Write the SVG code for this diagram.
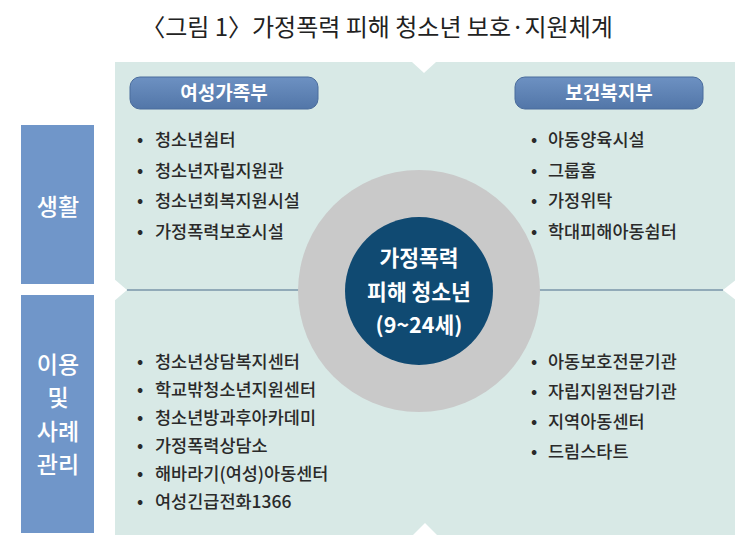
<svg xmlns="http://www.w3.org/2000/svg" width="750" height="551" viewBox="0 0 750 551">
<defs>
<linearGradient id="pillGrad" x1="0" y1="0" x2="0" y2="1">
<stop offset="0" stop-color="#6d91c2"/>
<stop offset="1" stop-color="#5276a8"/>
</linearGradient>
<style>
.k{font-family:"Noto Sans CJK KR","Noto Sans",sans-serif;}
.title{font-size:24px;fill:#222;}
.li{font-size:17.5px;fill:#2a2a2a;font-weight:500;}
.side{font-size:23px;fill:#fff;text-anchor:middle;font-weight:500;}
.pilltxt{font-size:19px;fill:#fff;text-anchor:middle;font-weight:700;}
.ctr{font-size:21.5px;fill:#fff;text-anchor:middle;font-weight:700;}
.pill{fill:url(#pillGrad);stroke:#4a6c9c;stroke-width:1;}
.sidebox{fill:#7096c9;}
.notch{fill:#fff;}
</style>
</defs>
<rect width="750" height="551" fill="#fff"/>
<text class="k title" y="36"><tspan x="252" text-anchor="end">〈그림 1〉</tspan><tspan x="252">가정폭력 피해 청소년 보호·지원체계</tspan></text>

<g id="panel">
<rect x="115" y="62" width="620" height="473" fill="#d8e9e6"/>
<polygon class="notch" points="412,62 436,62 424,73"/>
<polygon class="notch" points="413,535 437,535 425,523"/>
<polygon class="notch" points="113,278 127,290 113,302"/>
<polygon class="notch" points="737,279 723,290 737,301"/>
</g>

<g id="connectors">
<line x1="127" y1="290" x2="723" y2="290" stroke="#7a95a8" stroke-width="1.5"/>
</g>

<g id="side-life">
<rect class="sidebox" x="21" y="125" width="73" height="159"/>
<text class="k side" x="58" y="215">생활</text>
</g>
<g id="side-use">
<rect class="sidebox" x="21" y="295" width="73" height="238"/>
<text class="k side" x="58" y="373">이용</text>
<text class="k side" x="58" y="406">및</text>
<text class="k side" x="58" y="440">사례</text>
<text class="k side" x="58" y="473">관리</text>
</g>

<g id="pill-mogef">
<rect class="pill" x="130" y="77" width="188" height="32" rx="10"/>
<text class="k pilltxt" x="224" y="100">여성가족부</text>
</g>
<g id="pill-mohw">
<rect class="pill" x="515" y="77" width="188" height="32" rx="10"/>
<text class="k pilltxt" x="609" y="100">보건복지부</text>
</g>

<g id="list-top-left" class="k li">
<text y="146"><tspan x="137">•</tspan><tspan x="155">청소년쉼터</tspan></text>
<text y="177"><tspan x="137">•</tspan><tspan x="155">청소년자립지원관</tspan></text>
<text y="207"><tspan x="137">•</tspan><tspan x="155">청소년회복지원시설</tspan></text>
<text y="238"><tspan x="137">•</tspan><tspan x="155">가정폭력보호시설</tspan></text>
</g>
<g id="list-top-right" class="k li">
<text y="146"><tspan x="531">•</tspan><tspan x="548">아동양육시설</tspan></text>
<text y="177"><tspan x="531">•</tspan><tspan x="548">그룹홈</tspan></text>
<text y="207"><tspan x="531">•</tspan><tspan x="548">가정위탁</tspan></text>
<text y="238"><tspan x="531">•</tspan><tspan x="548">학대피해아동쉼터</tspan></text>
</g>
<g id="list-bottom-left" class="k li">
<text y="368"><tspan x="137">•</tspan><tspan x="155">청소년상담복지센터</tspan></text>
<text y="396"><tspan x="137">•</tspan><tspan x="155">학교밖청소년지원센터</tspan></text>
<text y="424"><tspan x="137">•</tspan><tspan x="155">청소년방과후아카데미</tspan></text>
<text y="452"><tspan x="137">•</tspan><tspan x="155">가정폭력상담소</tspan></text>
<text y="480"><tspan x="137">•</tspan><tspan x="155">해바라기(여성)아동센터</tspan></text>
<text y="508"><tspan x="137">•</tspan><tspan x="155">여성긴급전화1366</tspan></text>
</g>
<g id="list-bottom-right" class="k li">
<text y="368"><tspan x="531">•</tspan><tspan x="548">아동보호전문기관</tspan></text>
<text y="398"><tspan x="531">•</tspan><tspan x="548">자립지원전담기관</tspan></text>
<text y="428"><tspan x="531">•</tspan><tspan x="548">지역아동센터</tspan></text>
<text y="458"><tspan x="531">•</tspan><tspan x="548">드림스타트</tspan></text>
</g>

<g id="center">
<circle cx="419" cy="291" r="121" fill="#c9c9c9"/>
<circle cx="419" cy="291" r="74" fill="#104a72"/>
<text class="k ctr" x="419" y="266">가정폭력</text>
<text class="k ctr" x="419" y="300">피해 청소년</text>
<text class="k ctr" x="419" y="333">(9~24세)</text>
</g>
</svg>
